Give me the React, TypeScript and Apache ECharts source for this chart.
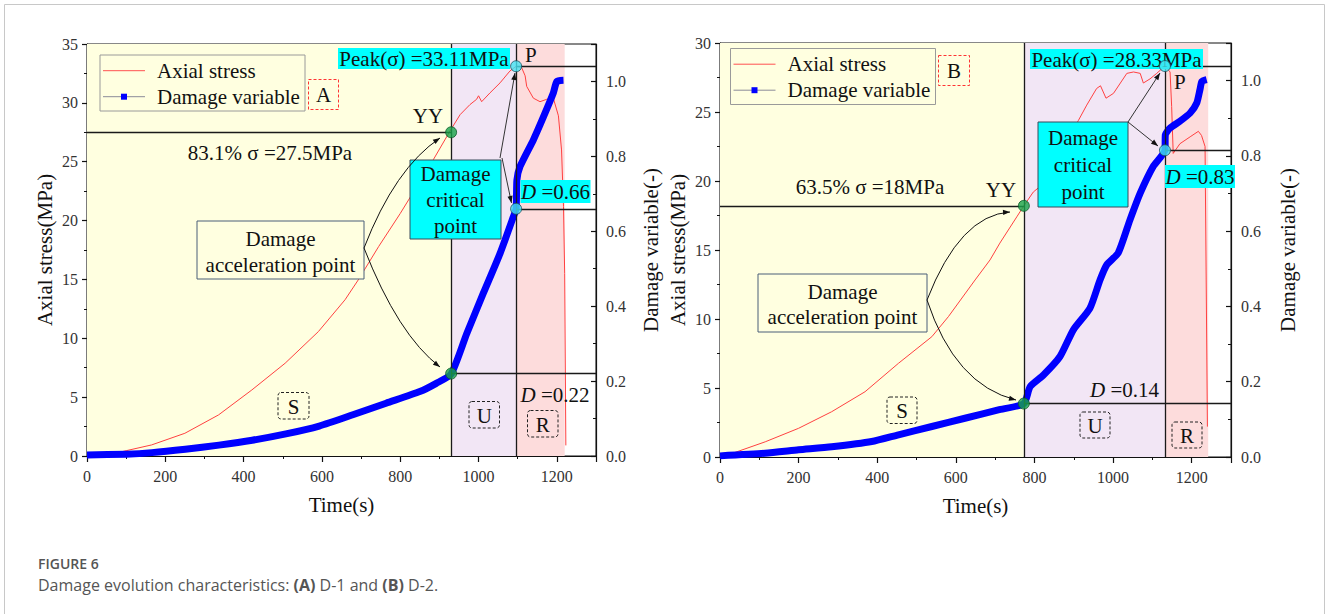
import React, { useEffect, useRef } from 'react';
import * as echarts from 'echarts';

const SERIF = 'Liberation Serif';
const SANS = 'Open Sans';

// ---------- (A) D-1 ----------
const stressA: [number, number][] = [
  [0, 0], [72, 0.23], [100, 0.45], [165, 0.94], [250, 1.93], [336, 3.49], [421, 5.61],
  [506, 7.88], [591, 10.57], [659, 13.27], [693, 14.97], [745, 17.8], [800, 20.6],
  [885, 25.2], [927, 27.6], [953, 29.0], [978, 29.85], [995, 30.3], [1000, 30.6],
  [1008, 30.1], [1029, 30.84], [1055, 31.7], [1080, 32.7], [1096, 33.11], [1110, 33.0],
  [1119, 32.3], [1123, 31.4], [1140, 30.4], [1157, 30.1], [1174, 30.3], [1191, 30.4],
  [1204, 28.9], [1212, 26.0], [1217, 21.2], [1220, 15.5], [1223, 0.9],
];
const damageA: [number, number][] = [
  [0, 0.003], [100, 0.005], [166, 0.009], [251, 0.018], [337, 0.029], [422, 0.042],
  [508, 0.059], [593, 0.08], [679, 0.11], [764, 0.141], [850, 0.172], [892, 0.194],
  [930, 0.219], [970, 0.327], [1012, 0.434], [1055, 0.541], [1089, 0.639], [1096, 0.661],
  [1098, 0.737], [1106, 0.773], [1140, 0.844], [1166, 0.906], [1191, 0.969], [1200, 1.0],
  [1217, 1.003],
];
const phasesA = [0, 930, 1096, 1220];
const yieldA = { t: 930, stress: 27.5, damage: 0.22 };
const peakA = { t: 1096, stress: 33.11, damage: 0.66 };

// ---------- (B) D-2 ----------
const stressB: [number, number][] = [
  [20, 0], [25, 0.2], [115, 1.1], [200, 2.08], [284, 3.28], [369, 4.73], [454, 6.79],
  [539, 8.72], [581, 10.17], [649, 12.83], [687, 14.28], [712, 15.5], [755, 17.4],
  [773, 18.2], [797, 19.2], [814, 19.6], [912, 24.4], [933, 25.5], [958, 26.7],
  [968, 26.9], [982, 26.0], [1001, 26.35], [1035, 27.8], [1052, 27.9], [1069, 27.8],
  [1077, 27.1], [1094, 27.4], [1111, 27.8], [1132, 28.33], [1145, 27.9], [1149, 25.4],
  [1153, 22.0], [1170, 22.7], [1196, 23.2], [1217, 23.6], [1225, 23.3], [1234, 22.5],
  [1240, 2.2],
];
const damageB: [number, number][] = [
  [0, 0.003], [115, 0.01], [200, 0.019], [284, 0.027], [386, 0.041], [454, 0.059],
  [539, 0.081], [623, 0.103], [708, 0.125], [773, 0.142], [789, 0.187], [823, 0.218],
  [865, 0.267], [899, 0.338], [941, 0.395], [967, 0.471], [984, 0.511], [1013, 0.542],
  [1043, 0.63], [1069, 0.701], [1102, 0.772], [1132, 0.815], [1133, 0.856], [1145, 0.874],
  [1170, 0.892], [1196, 0.914], [1213, 0.941], [1221, 0.976], [1226, 0.998], [1238, 1.003],
];
const phasesB = [0, 773, 1132, 1242];
const yieldB = { t: 773, stress: 18.2, damage: 0.142 };
const peakB = { t: 1132, stress: 28.33, damage: 0.815 };

const TIME_MAX = 1300;
const stressMax = [35, 30];
const PHASE_COLORS = ['#FFFFE0', '#F2E6F5', '#FDDCDC'];
const GREEN = '#18a34a';
const CYAN = '#44e4f2';

const axisLineStyle = { color: '#111', width: 1.2 };
const tickLabel = { fontFamily: SERIF, fontSize: 16, color: '#333', fontWeight: 'normal' };

function xAxisFor(gridIndex: number) {
  return {
    type: 'value', gridIndex, min: 0, max: TIME_MAX, interval: 200,
    name: 'Time(s)', nameLocation: 'middle', nameGap: 38,
    nameTextStyle: { fontFamily: SERIF, fontSize: 21, color: '#111' },
    axisLine: { lineStyle: axisLineStyle },
    axisTick: { show: true, inside: false, length: 6, lineStyle: axisLineStyle },
    minorTick: { show: true, splitNumber: 2, length: 3, lineStyle: { color: '#111', width: 1 } },
    axisLabel: { ...tickLabel, margin: 12, showMaxLabel: false, formatter: (v: number) => String(v) },
    splitLine: { show: false },
  };
}
function stressAxisFor(gridIndex: number, max: number) {
  return {
    type: 'value', gridIndex, min: 0, max, interval: 5, position: 'left',
    name: 'Axial stress(MPa)', nameLocation: 'middle', nameGap: 32,
    nameTextStyle: { fontFamily: SERIF, fontSize: 21, color: '#111' },
    axisLine: { show: true, lineStyle: axisLineStyle },
    axisTick: { show: true, inside: false, length: 5, lineStyle: axisLineStyle },
    minorTick: { show: true, splitNumber: 2, length: 3, lineStyle: { color: '#111', width: 1 } },
    axisLabel: { ...tickLabel, margin: 9, formatter: (v: number) => String(v) },
    splitLine: { show: false },
  };
}
function damageAxisFor(gridIndex: number, gap: number) {
  return {
    type: 'value', gridIndex, min: 0, max: 1.1, interval: 0.2, position: 'right',
    name: 'Damage variable(-)', nameLocation: 'middle', nameGap: gap,
    nameTextStyle: { fontFamily: SERIF, fontSize: 21, color: '#111' },
    axisLine: { show: true, lineStyle: axisLineStyle },
    axisTick: { show: true, inside: true, length: 5, lineStyle: axisLineStyle },
    minorTick: { show: true, splitNumber: 2, length: 3, lineStyle: { color: '#111', width: 1 } },
    axisLabel: { ...tickLabel, margin: 10, showMaxLabel: false, formatter: (v: number) => v.toFixed(1) },
    splitLine: { show: false },
  };
}

const refLine = { color: '#1a1a1a', width: 1.3, type: 'solid' };

function panelSeries(
  idx: number,
  stress: [number, number][],
  damage: [number, number][],
  phases: number[],
  yy: { t: number; stress: number; damage: number },
  pk: { t: number; stress: number; damage: number },
) {
  const x = idx;
  const yS = idx * 2;
  const yD = idx * 2 + 1;
  return [
    {
      type: 'line', xAxisIndex: x, yAxisIndex: yS, data: [], silent: true,
      markArea: {
        silent: true,
        data: PHASE_COLORS.map((c, i) => [
          { xAxis: phases[i], itemStyle: { color: c, opacity: 1 } },
          { xAxis: phases[i + 1] },
        ]),
      },
    },
    {
      type: 'line', xAxisIndex: x, yAxisIndex: yS, data: [], silent: true,
      markLine: {
        silent: true, symbol: ['none', 'none'], label: { show: false }, lineStyle: refLine,
        data: [
          { xAxis: yy.t },
          { xAxis: pk.t },
          [{ coord: [0, yy.stress] }, { coord: [yy.t, yy.stress] }],
          [{ coord: [pk.t, pk.stress] }, { coord: [TIME_MAX, pk.stress] }],
        ],
      },
    },
    {
      type: 'line', xAxisIndex: x, yAxisIndex: yD, data: [], silent: true,
      markLine: {
        silent: true, symbol: ['none', 'none'], label: { show: false }, lineStyle: refLine,
        data: [
          [{ coord: [yy.t, yy.damage] }, { coord: [TIME_MAX, yy.damage] }],
          [{ coord: [pk.t, pk.damage] }, { coord: [TIME_MAX, pk.damage] }],
        ],
      },
    },
    {
      name: 'Axial stress', type: 'line', xAxisIndex: x, yAxisIndex: yS, data: stress,
      symbol: 'none', showSymbol: false, z: 3,
      lineStyle: { color: '#ff4040', width: 1 },
    },
    {
      name: 'Damage variable', type: 'line', xAxisIndex: x, yAxisIndex: yD, data: damage,
      symbol: 'none', showSymbol: false, z: 4, smooth: 0.2,
      lineStyle: { color: '#0000ff', width: 7, join: 'round' },
    },
    {
      type: 'scatter', xAxisIndex: x, yAxisIndex: yS, symbolSize: 11, z: 30, silent: true,
      data: [
        { value: [yy.t, yy.stress], itemStyle: { color: GREEN, borderColor: '#0d5a28', borderWidth: 1 } },
        { value: [pk.t, pk.stress], itemStyle: { color: CYAN, borderColor: '#1b4d5c', borderWidth: 1 } },
      ],
    },
    {
      type: 'scatter', xAxisIndex: x, yAxisIndex: yD, symbolSize: 11, z: 30, silent: true,
      data: [
        { value: [yy.t, yy.damage], itemStyle: { color: GREEN, borderColor: '#0d5a28', borderWidth: 1 } },
        { value: [pk.t, pk.damage], itemStyle: { color: CYAN, borderColor: '#1b4d5c', borderWidth: 1 } },
      ],
    },
  ];
}

// ---------- graphic helpers ----------
function rect(x: number, y: number, w: number, h: number, fill: string, stroke: string, extra: any = {}) {
  return {
    type: 'rect', silent: true, z: extra.z ?? 10,
    shape: { x, y, width: w, height: h, r: extra.r ?? 0 },
    style: { fill, stroke, lineWidth: extra.lw ?? 1, lineDash: extra.dash ?? null },
  };
}
function text(t: string, x: number, y: number, extra: any = {}) {
  return {
    type: 'text', silent: true, z: extra.z ?? 12, x, y,
    style: {
      text: t,
      font: extra.font ?? `21px "${SERIF}"`,
      fill: extra.fill ?? '#111',
      align: extra.align ?? 'center',
      verticalAlign: extra.va ?? 'middle',
      lineHeight: extra.lh,
      rich: extra.rich,
    },
  };
}
function head(x: number, y: number, fx: number, fy: number) {
  const dx = x - fx, dy = y - fy;
  const L = Math.hypot(dx, dy) || 1;
  const ux = dx / L, uy = dy / L;
  const len = 7, w = 2.6;
  return {
    type: 'polygon', silent: true, z: 16,
    shape: { points: [[x, y], [x - ux * len - uy * w, y - uy * len + ux * w], [x - ux * len + uy * w, y - uy * len - ux * w]] },
    style: { fill: '#111' },
  };
}
function curveArrow(x1: number, y1: number, cx: number, cy: number, x2: number, y2: number) {
  return [
    { type: 'bezierCurve', silent: true, z: 15, shape: { x1, y1, x2, y2, cpx1: cx, cpy1: cy }, style: { stroke: '#111', lineWidth: 1, fill: 'none' } },
    head(x2, y2, cx, cy),
  ];
}
function straightArrow(x1: number, y1: number, x2: number, y2: number) {
  return [
    { type: 'line', silent: true, z: 15, shape: { x1, y1, x2, y2 }, style: { stroke: '#333', lineWidth: 1 } },
    head(x2, y2, x1, y1),
  ];
}
const dRich = { i: { fontStyle: 'italic', fontFamily: SERIF, fontSize: 21, fill: '#111' }, n: { fontFamily: SERIF, fontSize: 21, fill: '#111' } };
function dashedTag(letter: string, x: number, y: number, w: number, h: number, fill: string) {
  return [
    rect(x, y, w, h, fill, '#222', { dash: [3, 2], r: 3, z: 10 }),
    text(letter, x + w / 2, y + h / 2 + 1),
  ];
}
function legendBlock(x: number, y: number) {
  return [
    rect(x, y, 205, 56, '#FFFFE0', '#9a9a9a', { z: 10 }),
    { type: 'line', silent: true, z: 11, shape: { x1: x + 3, y1: y + 15.7, x2: x + 45, y2: y + 15.7 }, style: { stroke: '#ff5050', lineWidth: 1 } },
    text('Axial stress', x + 57, y + 15.7, { align: 'left' }),
    { type: 'line', silent: true, z: 11, shape: { x1: x + 3, y1: y + 41.7, x2: x + 45, y2: y + 41.7 }, style: { stroke: '#8c8c99', lineWidth: 1 } },
    rect(x + 21, y + 38.7, 6, 6, '#0000ff', 'none', { z: 12, lw: 0 }),
    text('Damage variable', x + 57, y + 41.7, { align: 'left' }),
  ];
}

function buildGraphic() {
  const g: any[] = [];
  g.push(rect(4.5, 4.5, 1320, 640, 'none', '#c8c8c8', { z: 0 }));
  // ----- panel A -----
  g.push(...legendBlock(100, 55));
  g.push(rect(308.5, 79.5, 30, 30, 'none', '#ff3333', { dash: [3, 2], z: 10 }));
  g.push(text('A', 323.5, 95));
  g.push(rect(338, 48, 172, 21, '#00FFFF', 'none', { z: 10, lw: 0 }));
  g.push(text('Peak(σ) =33.11MPa', 424, 59));
  g.push(text('P', 525, 55, { align: 'left' }));
  g.push(text('YY', 428, 116));
  g.push(text('83.1% σ =27.5MPa', 270, 153));
  g.push(rect(410, 160, 91, 79, '#00FFFF', '#3b4a5a', { z: 10 }));
  g.push(text('Damage\ncritical\npoint', 455.5, 200, { lh: 26 }));
  g.push(rect(520.5, 180, 70, 23, '#00FFFF', 'none', { z: 10, lw: 0 }));
  g.push(text('{i|D}{n| =0.66}', 555.5, 192, { rich: dRich }));
  g.push(rect(197, 221, 167, 58, '#FFFFE0', '#4b5e78', { z: 10 }));
  g.push(text('Damage', 280.5, 239));
  g.push(text('acceleration point', 280.5, 265));
  g.push(text('{i|D}{n| =0.22}', 520.5, 395, { align: 'left', rich: dRich }));
  g.push(...dashedTag('S', 278, 392.5, 31, 26.5, PHASE_COLORS[0]));
  g.push(...dashedTag('U', 469, 401.5, 30.5, 26.5, PHASE_COLORS[1]));
  g.push(...dashedTag('R', 527.5, 410.5, 30.5, 26.5, PHASE_COLORS[2]));
  g.push(...curveArrow(364, 248, 395, 168, 440, 138));
  g.push(...curveArrow(364, 248, 398, 335, 440, 367));
  g.push(...straightArrow(500, 158, 515, 73));
  g.push(...straightArrow(502, 158, 511.5, 203));
  // ----- panel B -----
  g.push(...legendBlock(730.5, 48.5));
  g.push(rect(938.5, 55.5, 31, 30, 'none', '#ff3333', { dash: [3, 2], z: 10 }));
  g.push(text('B', 954, 71));
  g.push(rect(1030, 49, 173, 20, '#00FFFF', 'none', { z: 10, lw: 0 }));
  g.push(text('Peak(σ) =28.33MPa', 1116.5, 59.5));
  g.push(text('P', 1174, 82, { align: 'left' }));
  g.push(text('YY', 1001, 190));
  g.push(text('63.5% σ =18MPa', 870, 187));
  g.push(rect(1038, 122, 90, 85, '#00FFFF', '#3b4a5a', { z: 10 }));
  g.push(text('Damage\ncritical\npoint', 1083, 165, { lh: 27 }));
  g.push(rect(1165, 165, 70, 23, '#00FFFF', 'none', { z: 10, lw: 0 }));
  g.push(text('{i|D}{n| =0.83}', 1200, 177, { rich: dRich }));
  g.push(rect(758, 274, 169, 58, '#FFFFE0', '#4b5e78', { z: 10 }));
  g.push(text('Damage', 842.5, 292));
  g.push(text('acceleration point', 842.5, 317));
  g.push(text('{i|D}{n| =0.14}', 1090, 390, { align: 'left', rich: dRich }));
  g.push(...dashedTag('S', 887, 397, 30, 26.5, PHASE_COLORS[0]));
  g.push(...dashedTag('U', 1080, 412, 30, 26, PHASE_COLORS[1]));
  g.push(...dashedTag('R', 1172, 422, 30, 26, PHASE_COLORS[2]));
  g.push(...curveArrow(927, 300, 960, 215, 1010, 212));
  g.push(...curveArrow(927, 300, 955, 385, 1016, 400));
  g.push(...straightArrow(1128, 122, 1160, 73));
  g.push(...straightArrow(1128, 122, 1158, 146));
  // ----- caption -----
  g.push(text('FIGURE 6', 38, 563, { align: 'left', font: `600 14px "${SANS}"`, fill: '#555', z: 12 }));
  g.push(text('{n|Damage evolution characteristics: }{b|(A)}{n| D-1 and }{b|(B)}{n| D-2.}', 38, 585, {
    align: 'left', font: `16px "${SANS}"`, fill: '#555',
    rich: {
      n: { fontFamily: SANS, fontSize: 16, fill: '#555' },
      b: { fontFamily: SANS, fontSize: 16, fontWeight: 'bold', fill: '#555' },
    },
  }));
  return g;
}

export default function App() {
  const ref = useRef<HTMLDivElement>(null);
  useEffect(() => {
    if (!ref.current) return;
    const chart = echarts.init(ref.current, null, { renderer: 'svg' });
    chart.setOption({
      animation: false,
      backgroundColor: '#ffffff',
      textStyle: { fontFamily: SERIF },
      grid: [
        { left: 87, top: 44, width: 509, height: 412, show: true, borderColor: '#111', borderWidth: 1, backgroundColor: 'transparent' },
        { left: 720, top: 43, width: 511, height: 414, show: true, borderColor: '#111', borderWidth: 1, backgroundColor: 'transparent' },
      ],
      xAxis: [xAxisFor(0), xAxisFor(1)],
      yAxis: [
        stressAxisFor(0, stressMax[0]),
        damageAxisFor(0, 44),
        stressAxisFor(1, stressMax[1]),
        damageAxisFor(1, 46),
      ],
      series: [
        ...panelSeries(0, stressA, damageA, phasesA, yieldA, peakA),
        ...panelSeries(1, stressB, damageB, phasesB, yieldB, peakB),
      ],
      graphic: buildGraphic(),
    });
    return () => chart.dispose();
  }, []);
  return (
    <div
      ref={ref}
      style={{ position: 'absolute', left: 0, top: 0, width: 1328, height: 614, background: '#fff' }}
    />
  );
}
